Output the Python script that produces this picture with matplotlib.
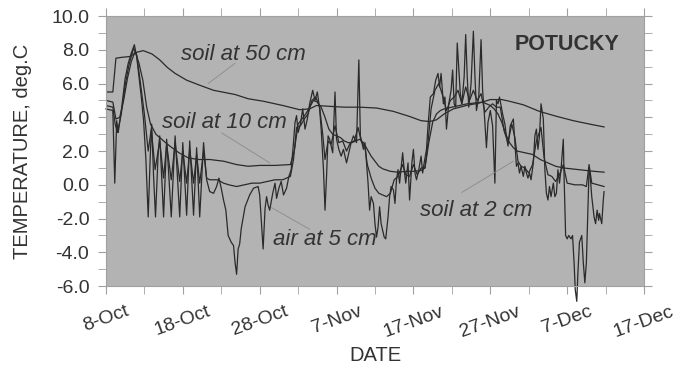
import matplotlib
import matplotlib.pyplot as plt
from matplotlib.ticker import MultipleLocator

matplotlib.use("agg")
plt.rcParams["font.family"] = ["Liberation Sans", "DejaVu Sans"]

# days counted from 8-Oct
day_ticks = [0, 10, 20, 30, 40, 50, 60, 70]
day_labels = ["8-Oct", "18-Oct", "28-Oct", "7-Nov", "17-Nov", "27-Nov", "7-Dec", "17-Dec"]

soil50_day = [0.0, 0.9, 1.3, 2.0, 3.1, 4.0, 4.85, 6.0, 7.0, 8.0, 9.0, 10.5, 12.2, 14.0,
              16.8, 18.5, 20.5, 23.0, 25.2, 26.5, 27.4, 29.1, 31.0, 33.0, 35.2, 37.4,
              39.5, 41.0, 42.1, 43.0, 44.0, 45.2, 46.9, 48.6, 50.0, 51.5, 52.5, 54.3,
              56.4, 58.6, 60.8, 62.9, 64.8]
soil50_t = [5.5, 5.5, 7.5, 7.55, 7.6, 7.85, 7.95, 7.75, 7.4, 6.95, 6.6, 6.2, 5.9, 5.6,
            5.35, 5.1, 4.95, 4.7, 4.45, 4.5, 4.7, 4.65, 4.6, 4.6, 4.55, 4.35,
            4.05, 3.8, 3.75, 3.85, 4.2, 4.5, 4.7, 4.85, 5.05, 5.05, 4.95, 4.74,
            4.35, 4.06, 3.8, 3.6, 3.43]

soil10_day = [0.0, 0.9, 1.3, 1.8, 2.3, 2.8, 3.3, 3.8, 4.3, 4.8, 5.3, 5.8, 6.5, 7.5,
              8.3, 9.5, 10.7, 12.0, 13.5, 15.3, 17.0, 18.5, 20.0, 22.0, 24.0, 24.5,
              25.0, 25.5, 26.0, 26.5, 27.0, 27.5, 28.0, 28.5, 29.0, 29.5, 30.0, 30.5,
              31.0, 31.5, 32.0, 32.5, 33.0, 33.5, 34.0, 34.5, 35.0, 35.5, 36.0, 37.0,
              38.0, 39.0, 40.0, 41.0, 41.5, 42.0, 42.5, 43.0, 43.5, 44.0, 45.0, 46.0,
              47.0, 48.0, 49.0, 50.0, 50.5, 51.0, 51.5, 52.0, 52.5, 53.0, 53.5, 54.5,
              55.5, 56.5, 57.5, 58.5, 59.5, 60.5, 61.5, 62.5, 63.5, 64.8]
soil10_t = [5.0, 4.9, 3.9, 4.0, 5.0, 6.3, 7.3, 7.9, 7.2, 6.2, 4.6, 3.6, 3.0, 2.6,
            2.3, 1.9, 1.6, 1.5, 1.5, 1.4, 1.2, 1.1, 1.15, 1.15, 1.2, 2.0,
            3.6, 3.9, 4.2, 4.6, 5.0, 4.9, 4.6, 4.0, 3.3, 3.0, 2.9, 2.8,
            2.6, 2.5, 2.5, 2.6, 2.7, 2.5, 2.1, 1.7, 1.4, 1.1, 0.95, 0.8,
            0.75, 0.8, 0.8, 0.85, 1.0, 2.5, 3.7, 4.2, 4.4, 4.5, 4.6, 4.7,
            4.8, 4.85, 4.9, 4.7, 4.5, 4.2, 3.7, 3.0, 2.5, 2.2, 2.0, 1.9,
            1.8, 1.5, 1.3, 1.1, 1.0, 0.95, 0.9, 0.85, 0.8, 0.75]

soil2_day = [0.0, 0.9, 1.2, 1.5, 2.0, 2.5, 3.0, 3.6, 4.0, 4.5, 5.0, 5.5, 5.9, 6.4,
             7.0, 7.5, 7.9, 8.5, 9.0, 9.6, 10.0, 10.5, 10.9, 11.4, 11.8, 12.2, 12.7,
             13.1, 13.5, 14.5, 15.3, 16.0, 17.0, 18.0, 19.0, 20.0, 21.0, 22.0, 23.0,
             24.0, 24.4, 24.8, 25.3, 25.8, 26.3, 26.8, 27.3, 27.8, 28.2, 28.5, 28.9,
             29.3, 29.8, 30.3, 30.8, 31.3, 31.8, 32.3, 32.8, 33.2, 33.7, 34.0, 34.5,
             35.0, 35.5, 36.0, 36.5, 37.0, 37.5, 38.0, 38.6, 39.0, 39.5, 40.0, 40.5,
             41.0, 41.5, 41.9, 42.3, 42.8, 43.3, 43.8, 44.3, 44.8, 45.3, 45.8, 46.3,
             46.8, 47.3, 47.8, 48.3, 48.8, 49.3, 49.8, 50.3, 50.8, 51.3, 51.8, 52.3,
             52.8, 53.2, 53.6, 54.0, 54.5, 55.0, 55.5, 56.0, 56.6, 57.0, 57.5, 58.0,
             58.5, 59.0, 59.5, 60.0, 61.0, 62.0, 62.5, 62.85, 63.2, 64.0, 64.8]
soil2_t = [4.7, 4.6, 3.6, 3.1, 4.2, 5.9, 7.1, 8.1, 7.7, 6.0, 4.2, 2.0, 3.3, 0.9,
           2.6, 0.4, 2.4, 0.3, 2.5, 0.2, 2.0, 0.1, 2.1, 0.1, 1.8, 0.1, 2.0,
           0.4, 0.3, 0.3, 0.1, 0.0, -0.1, 0.0, 0.1, 0.1, 0.2, 0.3, 0.3,
           0.5, 1.5, 3.4, 3.5, 3.9, 4.2, 5.0, 5.2, 4.6, 3.0, 1.5, 2.6,
           2.4, 3.5, 2.5, 2.6, 2.0, 2.5, 2.6, 3.4, 2.6, 2.2, 1.2, 0.4,
           -0.2, -0.5, -0.6, -0.7, -0.5, 0.3, 0.5, 1.2, 0.6, 0.5, 1.2, 0.6,
           1.0, 1.0, 2.5, 4.5, 5.6, 6.0, 5.3, 4.4, 5.0, 5.2, 5.6, 4.8,
           5.8, 5.0, 5.6, 5.0, 5.4, 4.3, 4.6, 4.8, 4.6, 4.6, 3.2, 2.5,
           3.6, 2.8, 1.4, 1.1, 1.0, 0.7, 1.2, 2.6, 3.4, 1.6, 0.6, 0.5,
           0.2, 0.6, 1.2, 0.1, 0.0, 0.0, -0.1, 1.2, 0.1, 0.0, -0.1]

air_day = [0.0, 0.9, 1.15, 1.4, 1.6, 2.0, 2.5, 2.9, 3.3, 3.7, 4.0, 4.3, 4.6, 4.9,
           5.2, 5.5, 5.75, 5.95, 6.2, 6.45, 6.8, 7.0, 7.5, 7.9, 8.5, 9.0, 9.6, 10.0,
           10.5, 10.9, 11.4, 11.8, 12.2, 12.7, 13.1, 13.5, 14.0, 14.4, 14.7, 15.0,
           15.3, 15.6, 15.9, 16.3, 16.6, 16.8, 17.0, 17.2, 17.4, 17.6, 18.1, 18.7,
           19.2, 19.8, 20.0, 20.2, 20.45, 20.7, 20.9, 21.1, 21.3, 21.7, 22.0, 22.2,
           22.5, 22.8, 23.1, 23.5, 23.8, 24.1, 24.4, 24.6, 24.8, 25.0, 25.3, 25.6,
           25.9, 26.2, 26.5, 26.9, 27.2, 27.5, 27.8, 28.0, 28.3, 28.5, 28.7, 28.9,
           29.1, 29.5, 29.8, 30.0, 30.3, 30.6, 30.9, 31.3, 31.6, 31.9, 32.2, 32.6,
           32.9, 33.1, 33.5, 33.7, 33.9, 34.1, 34.3, 34.5, 34.8, 35.0, 35.2, 35.4,
           35.6, 35.8, 36.2, 36.4, 36.7, 36.9, 37.1, 37.4, 37.6, 37.8, 38.0, 38.2,
           38.6, 38.8, 39.0, 39.3, 39.5, 39.8, 40.0, 40.2, 40.4, 40.7, 41.0, 41.2,
           41.4, 41.7, 41.9, 42.2, 42.6, 42.9, 43.2, 43.4, 43.6, 43.9, 44.1, 44.3,
           44.6, 44.9, 45.1, 45.3, 45.5, 45.7, 46.1, 46.3, 46.6, 46.8, 47.0, 47.2,
           47.5, 47.8, 48.0, 48.2, 48.5, 48.8, 49.0, 49.2, 49.5, 49.7, 50.0, 50.3,
           50.6, 50.8, 51.0, 51.2, 51.6, 51.9, 52.1, 52.3, 52.6, 53.0, 53.2, 53.4,
           53.6, 53.8, 54.0, 54.3, 54.5, 54.7, 54.9, 55.1, 55.3, 55.6, 55.8, 56.0,
           56.2, 56.4, 56.6, 56.9, 57.1, 57.3, 57.5, 57.7, 57.9, 58.2, 58.4, 58.6,
           58.8, 59.0, 59.2, 59.5, 59.6, 59.8, 60.0, 60.2, 60.5, 60.7, 60.9, 61.05,
           61.25, 61.4, 61.6, 61.9, 62.1, 62.3, 62.5, 62.7, 62.85, 63.0, 63.2, 63.5,
           63.7, 63.9, 64.1, 64.2, 64.5, 64.7, 64.8]
air_t = [4.5, 4.4, 0.1, 3.8, 3.1, 4.4, 6.3, 7.2, 7.8, 8.3, 7.6, 6.4, 5.2, 3.8,
         1.5, -1.9, 1.5, 3.6, 0.5, -1.9, 1.9, 2.9, -1.9, 2.7, -1.9, 2.9, -1.9, 2.5,
         -1.8, 2.6, -1.8, 2.2, -1.9, 2.5, 0.3, -0.4, -0.5, -0.1, 0.4, -0.2,
         -0.9, -1.5, -3.0, -3.4, -3.6, -4.6, -5.3, -3.8, -3.5, -2.6, -1.3, -0.6,
         -0.2, -0.1, -0.6, -2.0, -3.8, -1.4, -0.7, -1.2, -1.5, -0.5, 0.1, -0.8,
         -0.2, 0.2, -0.6, -0.2, 0.5, 0.9, 2.5, 3.7, 4.1, 3.1, 3.6, 4.5,
         3.3, 3.9, 4.8, 5.6, 5.0, 5.5, 4.5, 3.3, 0.9, -1.5, 0.5, 2.9,
         2.7, 1.9, 5.5, 2.7, 2.1, 1.7, 2.1, 1.3, 1.9, 2.5, 2.9, 2.5,
         7.4, 2.9, 2.1, 2.5, 1.3, 0.1, -1.5, -0.7, -1.1, -2.3, -3.1, -2.5,
         -1.3, -2.3, -3.1, -3.2, -1.9, -0.7, -0.1, -0.3, -1.1, 0.3, 0.9, 0.1,
         1.9, 0.9, 0.1, 1.3, -0.9, 1.3, 2.1, 0.7, 0.3, 0.9, 1.7, 0.7,
         1.3, 2.1, 3.5, 5.2, 5.4, 6.2, 6.6, 5.8, 6.6, 4.8, 5.2, 3.3,
         4.8, 5.6, 6.8, 4.8, 4.6, 8.4, 5.4, 4.8, 6.4, 8.9, 6.4, 4.6,
         6.0, 9.1, 6.5, 4.4, 5.2, 8.6, 5.6, 4.4, 2.2, 3.7, 4.4, 3.5,
         0.1, 5.0, 4.8, 5.2, 4.2, 3.6, 2.9, 2.3, 3.5, 3.9, 2.5, 1.1,
         1.3, 0.7, 1.1, 0.5, 1.1, 0.7, 0.4, 0.7, 0.3, 1.3, 2.9, 3.3,
         2.1, 2.9, 4.8, 3.9, 0.9, -0.5, -0.9, -0.1, -0.7, 0.1, -0.7, -0.5,
         0.9, 0.1, 0.9, 2.7, 0.5, -3.0, -3.2, -3.0, -3.2, -3.0, -4.6, -6.2,
         -6.9, -5.2, -3.4, -3.0, -4.6, -5.8, -4.6, -1.5, 0.9, 0.5, -0.7, -1.9,
         -2.3, -1.5, -2.1, -1.7, -2.3, -0.9, -0.4]

fig = plt.figure(figsize=(6.79, 3.75), dpi=100)
ax = fig.add_axes([0.156, 0.237, 0.7925, 0.7203])
ax.set_facecolor("#b3b3b3")

line_kw = dict(color="#2a2a2a", lw=0.9)
ax.plot(soil50_day, soil50_t, **line_kw)
ax.plot(soil10_day, soil10_t, **line_kw)
ax.plot(soil2_day, soil2_t, **line_kw)
ax.plot(air_day, air_t, clip_on=False, **line_kw)

ax.set_xlim(0, 70)
ax.set_ylim(-6, 10)
ax.set_xticks(day_ticks)
ax.set_xticklabels(day_labels, rotation=20, ha="center")
ax.xaxis.set_minor_locator(MultipleLocator(5))
ax.yaxis.set_major_locator(MultipleLocator(2))
ax.yaxis.set_minor_locator(MultipleLocator(1))
ax.yaxis.set_major_formatter(lambda v, p: f"{v:.1f}")

for s in ax.spines.values():
    s.set_color("#a0a0a0")
ax.tick_params(which="both", direction="out", length=6, color="#a0a0a0",
               top=True, right=True, labelsize=14, labelcolor="#333333")
ax.tick_params(axis="x", pad=6)
ax.tick_params(axis="y", pad=6)

ax.set_xlabel("DATE", fontsize=14.5, color="#333333", labelpad=4)
ax.set_ylabel("TEMPERATURE, deg.C", fontsize=14.5, color="#333333", labelpad=14)

txt = dict(fontsize=16, style="italic", color="#333333", va="baseline")
ax.text(9.76, 7.4, "soil at 50 cm", **txt)
ax.text(7.29, 3.39, "soil at 10 cm", **txt)
ax.text(21.7, -3.58, "air at 5 cm", **txt)
ax.text(40.85, -1.87, "soil at 2 cm", **txt)
ax.text(66.8, 8.3, "POTUCKY", fontsize=15.5, weight="bold", color="#333333",
        ha="right", va="center")

lead = dict(color="#8a8a8a", lw=0.6)
ax.plot([16.8, 13.3], [7.2, 6.0], **lead)
ax.plot([15.05, 21.3], [3.08, 1.3], **lead)
ax.plot([21.55, 26.5], [-1.35, -2.63], **lead)
ax.plot([46.3, 53.0], [-0.45, 1.4], **lead)

fig.savefig("out.png", dpi=100)
